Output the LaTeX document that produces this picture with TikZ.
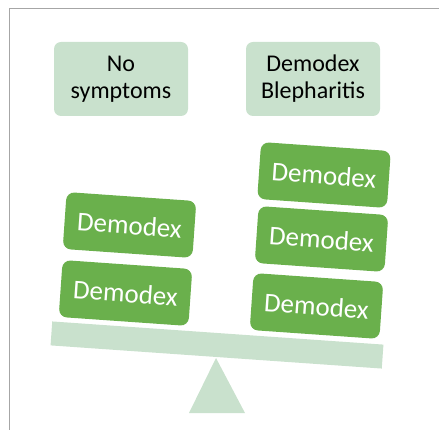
\documentclass[tikz,border=0pt]{standalone}
\usepackage{fontspec}
\setmainfont{Carlito}
\definecolor{lightg}{HTML}{C9E1CD}
\definecolor{darkg}{HTML}{6AB04C}
\definecolor{frameg}{HTML}{A6A6A6}
\begin{document}
\begin{tikzpicture}[x=1pt,y=-1pt,
  label box/.style={fill=lightg, rounded corners=7pt, minimum width=134pt, minimum height=74pt, inner sep=0pt, align=center, font=\fontsize{24}{27}\selectfont, text=black},
  mite/.style={fill=darkg, rounded corners=8pt, minimum width=130pt, minimum height=57pt, inner sep=0pt, font=\fontsize{27}{30}\selectfont, text=white, rotate=-4}]
\useasboundingbox (0,0) rectangle (439,430);
\draw[frameg, line width=1.5pt] (9.5,430) coordinate (fb) -- (9.5,8.5) coordinate (fc) -- (439,8.5) coordinate (fr);
\node[label box] (none) at (121,79) {No\\symptoms};
\node[label box] (bleph) at (313,79) {Demodex\\Blepharitis};
\node[fill=lightg, minimum width=332pt, minimum height=24pt, inner sep=0pt, rotate=-4] (beam) at (217,345) {};
\fill[lightg] (216,358) coordinate (apex) -- (189,413) coordinate (bl) -- (245,413) coordinate (br) -- cycle;
\node[mite] (l1) at (125.5,293) {Demodex};
\node[mite] (l2) at (129.5,225) {Demodex};
\node[mite] (r1) at (316.5,306) {Demodex};
\node[mite] (r2) at (321.5,239) {Demodex};
\node[mite] (r3) at (324,175) {Demodex};
\end{tikzpicture}
\end{document}
